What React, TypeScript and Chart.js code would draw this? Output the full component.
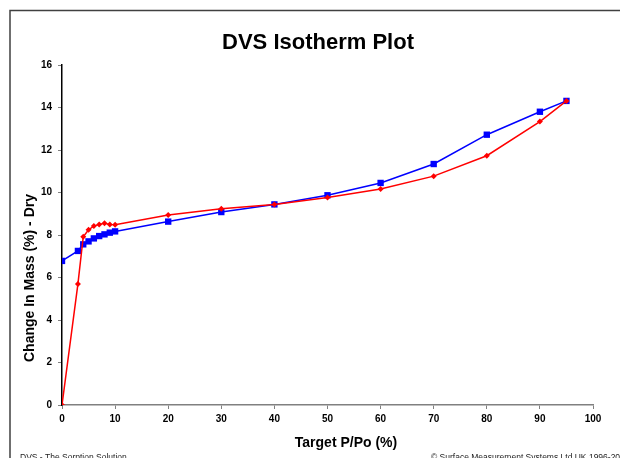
import React, { useEffect, useRef } from "react";
import { Chart, registerables } from "chart.js";

Chart.register(...registerables);

const titleText = "DVS Isotherm Plot";
const xTitle = "Target P/Po (%)";
const yTitle = "Change In Mass (%) - Dry";
const footerLeft = "DVS - The Sorption Solution";
const footerRight = "© Surface Measurement Systems Ltd UK 1996-2000";

const blueX = [0, 3, 4, 5, 6, 7, 8, 9, 10, 20, 30, 40, 50, 60, 70, 80, 90, 95];
const blueY = [6.78, 7.25, 7.56, 7.7, 7.84, 7.95, 8.03, 8.11, 8.17, 8.63, 9.08, 9.44, 9.87, 10.45, 11.34, 12.72, 13.8, 14.31];

const redX = [0, 3, 4, 5, 6, 7, 8, 9, 10, 20, 30, 40, 50, 60, 70, 80, 90, 95];
const redY = [0, 5.7, 7.92, 8.25, 8.42, 8.5, 8.55, 8.5, 8.48, 8.94, 9.24, 9.43, 9.77, 10.16, 10.77, 11.73, 13.34, 14.31];

const FONT = "Arial, 'Liberation Sans', sans-serif";

const overlay = {
  id: "overlay",
  afterDraw(chart: any) {
    const ctx = chart.ctx;
    ctx.save();
    ctx.strokeStyle = "#404040";
    ctx.lineWidth = 1.5;
    ctx.beginPath();
    ctx.moveTo(10, 460);
    ctx.lineTo(10, 10.5);
    ctx.lineTo(622, 10.5);
    ctx.stroke();
    ctx.fillStyle = "#000";
    ctx.textAlign = "center";
    ctx.textBaseline = "middle";
    ctx.font = `bold 22px ${FONT}`;
    ctx.fillText(titleText, 318, 43);
    ctx.font = `bold 14px ${FONT}`;
    ctx.fillText(xTitle, 346, 443);
    ctx.save();
    ctx.translate(30, 278);
    ctx.rotate(-Math.PI / 2);
    ctx.fillText(yTitle, 0, 0);
    ctx.restore();
    ctx.font = `8.5px ${FONT}`;
    ctx.textBaseline = "top";
    ctx.textAlign = "left";
    ctx.fillStyle = "#222";
    ctx.fillText(footerLeft, 20, 453);
    ctx.fillText(footerRight, 431, 453);
    ctx.restore();
  },
};

export default function App() {
  const ref = useRef<HTMLCanvasElement>(null);
  useEffect(() => {
    if (!ref.current) return;
    const chart = new Chart(ref.current, {
      type: "line",
      data: {
        datasets: [
          {
            label: "Desorption",
            data: redX.map((x, i) => ({ x, y: redY[i] })),
            borderColor: "#FF0000",
            backgroundColor: "#FF0000",
            borderWidth: 1.5,
            pointStyle: "rectRot",
            pointRadius: 3,
            pointBorderWidth: 0,
            tension: 0,
          },
          {
            label: "Sorption",
            data: blueX.map((x, i) => ({ x, y: blueY[i] })),
            borderColor: "#0000FF",
            backgroundColor: "#0000FF",
            borderWidth: 1.5,
            pointStyle: "rect",
            pointRadius: 4.5,
            pointBorderWidth: 0,
            tension: 0,
          },
        ],
      },
      options: {
        animation: false,
        responsive: false,
        layout: { padding: { left: 0, top: 65, right: 27, bottom: 0 } },
        plugins: { legend: { display: false }, tooltip: { enabled: false }, title: { display: false } },
        scales: {
          x: {
            type: "linear",
            min: 0,
            max: 100,
            ticks: { stepSize: 10, color: "#000", font: { family: FONT, size: 10, weight: "bold" }, padding: 4, maxRotation: 0 },
            grid: { drawOnChartArea: false, drawTicks: true, tickLength: 4, color: "#808080" },
            border: { color: "#808080", width: 1.5 },
            afterFit: (s: any) => { s.height = 53; },
          },
          y: {
            type: "linear",
            min: 0,
            max: 16,
            ticks: { stepSize: 2, color: "#000", font: { family: FONT, size: 10, weight: "bold" }, padding: 6 },
            grid: { drawOnChartArea: false, drawTicks: true, tickLength: 4, color: "#808080" },
            border: { color: "#000", width: 1.5 },
            afterFit: (s: any) => { s.width = 62; },
          },
        },
      },
      plugins: [overlay],
    } as any);
    return () => chart.destroy();
  }, []);
  return (
    <div style={{ position: "fixed", left: 0, top: 0, width: 620, height: 458, background: "#fff" }}>
      <canvas ref={ref} width={620} height={458} style={{ display: "block" }} />
    </div>
  );
}
